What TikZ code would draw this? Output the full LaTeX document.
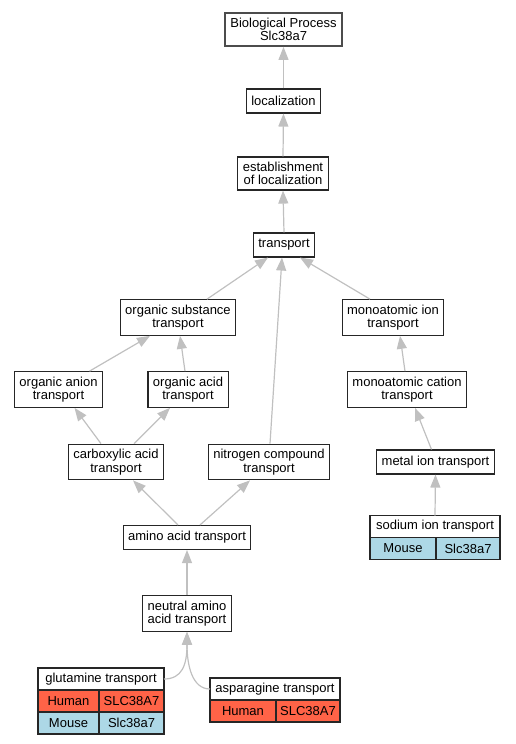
\documentclass[tikz,border=0pt]{standalone}
\usepackage{fontspec}
\setmainfont{Liberation Sans}
\usetikzlibrary{arrows.meta}

\definecolor{human}{HTML}{FF6347}
\definecolor{mouse}{HTML}{ADD8E6}
\definecolor{edgegray}{HTML}{C0C0C0}

\tikzset{
  term/.style={draw=black!85, line width=1.1pt, fill=white, align=center,
    font=\fontsize{13}{13.5}\selectfont, inner xsep=5pt, inner ysep=5pt,
    minimum height=24pt},
  head/.style={term, inner ysep=2pt, minimum height=22pt, outer sep=0pt},
  cell/.style={draw=black!85, line width=1.1pt, font=\fontsize{13}{13.5}\selectfont,
    inner sep=0pt, outer sep=0pt, minimum height=22pt, anchor=north west},
  isa/.style={draw=edgegray, line width=1.2pt,
    -{Triangle[length=13pt,width=10pt]}},
}

\begin{document}
\begin{tikzpicture}[x=1pt,y=-1pt]

  \useasboundingbox (0,0) rectangle (516,744);

  % Terms
  \node[term, draw=black!70, line width=1.8pt] (bp) at (283.5,29.5) {Biological Process\\Slc38a7};
  \node[term] (loc) at (283.5,101) {localization};
  \node[term] (estab) at (283,173.5) {establishment\\of localization};
  \node[term] (tr) at (284,245) {transport};
  \node[term] (orgsub) at (178,317.5) {organic substance\\transport};
  \node[term] (monoion) at (393,317.5) {monoatomic ion\\transport};
  \node[term] (organion) at (58.5,389.5) {organic anion\\transport};
  \node[term] (orgacid) at (188,389.5) {organic acid\\transport};
  \node[term] (monocat) at (407,389.5) {monoatomic cation\\transport};
  \node[term] (carbox) at (116,462) {carboxylic acid\\transport};
  \node[term] (nitro) at (269,462) {nitrogen compound\\transport};
  \node[term] (metal) at (435.5,462) {metal ion transport};
  \node[term] (amino) at (187,537.5) {amino acid transport};
  \node[term] (neutral) at (187,613.5) {neutral amino\\acid transport};

  % Annotated terms
  \node[head, minimum width=130pt] (sodium) at (435,526.5) {sodium ion transport};
  \node[cell, fill=mouse, minimum width=66pt] (sodiumM) at (sodium.south west) {Mouse};
  \node[cell, fill=mouse, minimum width=64pt] (sodiumMg) at (sodiumM.north east) {Slc38a7};

  \node[head, minimum width=126pt] (glut) at (101,679) {glutamine transport};
  \node[cell, fill=human, minimum width=61pt] (glutH) at (glut.south west) {Human};
  \node[cell, fill=human, minimum width=65pt] (glutHg) at (glutH.north east) {SLC38A7};
  \node[cell, fill=mouse, minimum width=61pt] (glutM) at (glutH.south west) {Mouse};
  \node[cell, fill=mouse, minimum width=65pt] (glutMg) at (glutM.north east) {Slc38a7};

  \node[head, minimum width=130pt] (aspar) at (275,689) {asparagine transport};
  \node[cell, fill=human, minimum width=66pt] (asparH) at (aspar.south west) {Human};
  \node[cell, fill=human, minimum width=64pt] (asparHg) at (asparH.north east) {SLC38A7};

  % Draw is_a edges
  \draw[isa] (loc.north) -- (bp.south);
  \draw[isa] (estab.north) -- (loc.south);
  \draw[isa] (tr.north) -- (estab.south);
  \draw[isa] ([xshift=29pt]orgsub.north) -- ([xshift=-16pt]tr.south);
  \draw[isa] ([xshift=1pt]nitro.north) -- ([xshift=-2pt]tr.south);
  \draw[isa] ([xshift=-23pt]monoion.north) -- ([xshift=16pt]tr.south);
  \draw[isa] ([xshift=31pt]organion.north) -- ([xshift=-28pt]orgsub.south);
  \draw[isa] ([xshift=-3pt]orgacid.north) -- ([xshift=2pt]orgsub.south);
  \draw[isa] ([xshift=-2pt]monocat.north) -- ([xshift=7pt]monoion.south);
  \draw[isa] ([xshift=-15pt]carbox.north) -- ([xshift=16pt]organion.south);
  \draw[isa] ([xshift=18pt]carbox.north) -- ([xshift=-18pt]orgacid.south);
  \draw[isa] ([xshift=-4pt]metal.north) -- ([xshift=8pt]monocat.south);
  \draw[isa] ([xshift=-9pt]amino.north) -- ([xshift=17pt]carbox.south);
  \draw[isa] ([xshift=13pt]amino.north) -- ([xshift=-19pt]nitro.south);
  \draw[isa] (sodium.north) -- (metal.south);
  \draw[isa] (neutral.north) -- (amino.south);
  \draw[isa] (glut.east) .. controls (182,679) and (187,665) .. (neutral.south);
  \draw[isa] (aspar.west) .. controls (192,689) and (187,665) .. (neutral.south);

\end{tikzpicture}
\end{document}
